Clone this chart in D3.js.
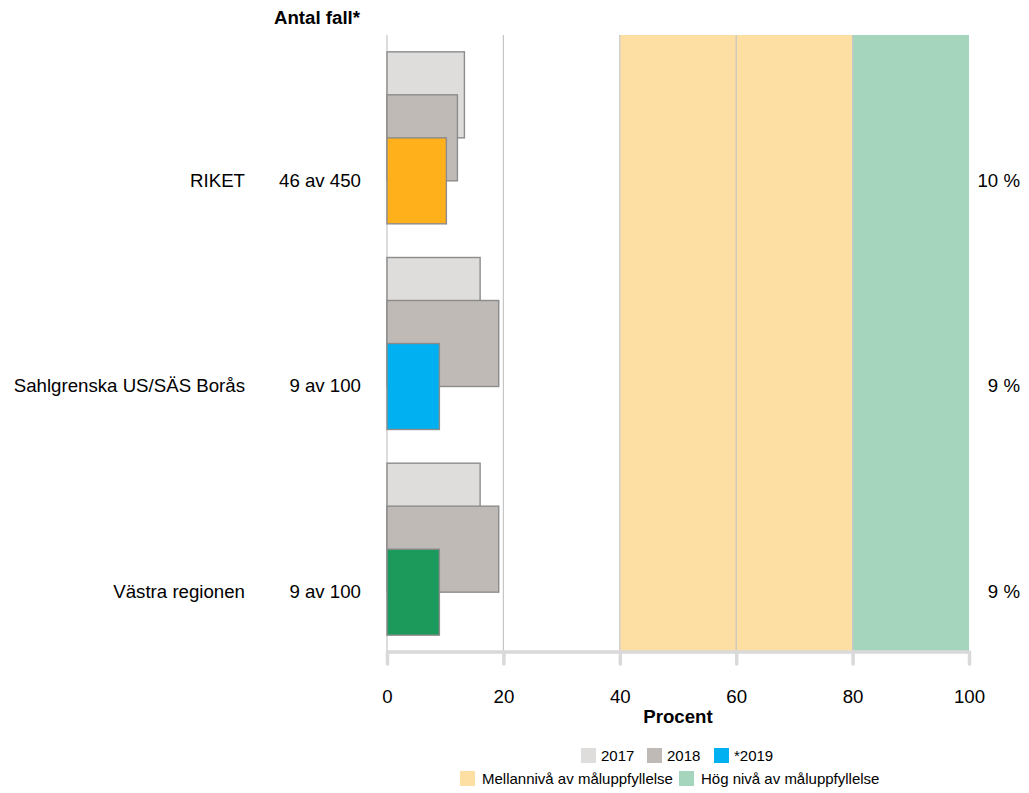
<!DOCTYPE html>
<html><head><meta charset="utf-8">
<script src="https://cdn.jsdelivr.net/npm/d3@7"></script>
<style>body{margin:0;background:#fff;}svg{display:block;font-family:"Liberation Sans",Arial,sans-serif;}</style>
</head><body>
<script>
const categories = ["RIKET", "Sahlgrenska US/SÄS Borås", "Västra regionen"];
const counts = ["46 av 450", "9 av 100", "9 av 100"];
const years = ["2017", "2018", "*2019"];
const values2017 = [13.3, 16.0, 16.0];
const values2018 = [12.1, 19.2, 19.2];
const values2019 = [10.2, 9.0, 9.0];
const valueLabels = ["10 %", "9 %", "9 %"];
const color2019 = ["#ffb01a", "#00b0f0", "#1b9a5b"];
const xTicks = [0, 20, 40, 60, 80, 100];
const bands = [{from: 40, to: 80, color: "#fedfa3", label: "Mellannivå av måluppfyllelse"},
               {from: 80, to: 100, color: "#a6d5be", label: "Hög nivå av måluppfyllelse"}];

const W = 1029, H = 793;
const FS = 18.67;
const svg = d3.select("body").append("svg").attr("width", W).attr("height", H);
const x = d3.scaleLinear().domain([0, 100]).range([387, 969]);
const y = d3.scaleBand().domain(categories).range([35, 652]);
const series = [values2017, values2018, values2019];
const yearFill = ["#dedddc", "#c0bab7", null];

// background bands
svg.selectAll("rect.band").data(bands).enter().append("rect")
  .attr("x", d => x(d.from)).attr("width", d => x(d.to) - x(d.from))
  .attr("y", 35).attr("height", 652 - 35).attr("fill", d => d.color);

// gridlines
svg.selectAll("line.grid").data(xTicks.filter(t => t < 100)).enter().append("line")
  .attr("x1", d => x(d)).attr("x2", d => x(d)).attr("y1", 35).attr("y2", 652)
  .attr("stroke", "#c6c6c6").attr("stroke-width", 1.2);

// bars
categories.forEach((cat, i) => {
  const c = y(cat) + y.bandwidth() / 2;
  const inner = d3.scalePoint().domain(years).range([c - 43, c + 43]);
  const step = inner.step();
  years.forEach((yr, j) => {
    const v = series[j][i];
    svg.append("rect")
      .attr("x", x(0)).attr("y", inner(yr) - step)
      .attr("width", x(v) - x(0)).attr("height", step * 2)
      .attr("fill", j === 2 ? color2019[i] : yearFill[j])
      .attr("stroke", "#8c8c8c").attr("stroke-width", 1.4);
  });
  const ly = inner(years[2]);
  svg.append("text").attr("x", 245).attr("y", ly).attr("dy", "0.32em")
    .attr("text-anchor", "end").attr("font-size", FS).text(cat);
  svg.append("text").attr("x", 361).attr("y", ly).attr("dy", "0.32em")
    .attr("text-anchor", "end").attr("font-size", FS).text(counts[i]);
  svg.append("text").attr("x", 1020).attr("y", ly).attr("dy", "0.32em")
    .attr("text-anchor", "end").attr("font-size", FS).text(valueLabels[i]);
});

svg.append("text").attr("x", 317).attr("y", 24).attr("text-anchor", "middle")
  .attr("font-size", FS).attr("font-weight", "bold").text("Antal fall*");

// x axis
const axis = d3.axisBottom(x).tickValues(xTicks).tickSize(12).tickPadding(26);
const gA = svg.append("g").attr("transform", "translate(0,652)").call(axis);
gA.select(".domain").attr("stroke", "#d9d9d9").attr("stroke-width", 3.5)
  .attr("d", `M${x(0)},0H${x(100)}`);
gA.selectAll(".tick line").attr("stroke", "#d9d9d9").attr("stroke-width", 3.5)
  .attr("stroke-linecap", "round").attr("y1", 0);
gA.selectAll(".tick text").attr("font-size", FS).attr("fill", "#000")
  .attr("font-family", "Liberation Sans, Arial, sans-serif");
svg.append("text").attr("x", x(50)).attr("y", 723).attr("text-anchor", "middle")
  .attr("font-size", FS).attr("font-weight", "bold").text("Procent");

// legend row 1
const leg1 = [{label: years[0], color: yearFill[0], x: 581},
              {label: years[1], color: yearFill[1], x: 647},
              {label: years[2], color: color2019[1], x: 714}];
leg1.forEach(d => {
  svg.append("rect").attr("x", d.x).attr("y", 748).attr("width", 15).attr("height", 15).attr("fill", d.color);
  svg.append("text").attr("x", d.x + 20).attr("y", 761).attr("font-size", 15).text(d.label);
});
const leg2x = [460, 679];
bands.forEach((d, i) => {
  svg.append("rect").attr("x", leg2x[i]).attr("y", 771).attr("width", 15).attr("height", 15).attr("fill", d.color);
  svg.append("text").attr("x", leg2x[i] + 22).attr("y", 784).attr("font-size", 15).text(d.label);
});
</script>
</body></html>
